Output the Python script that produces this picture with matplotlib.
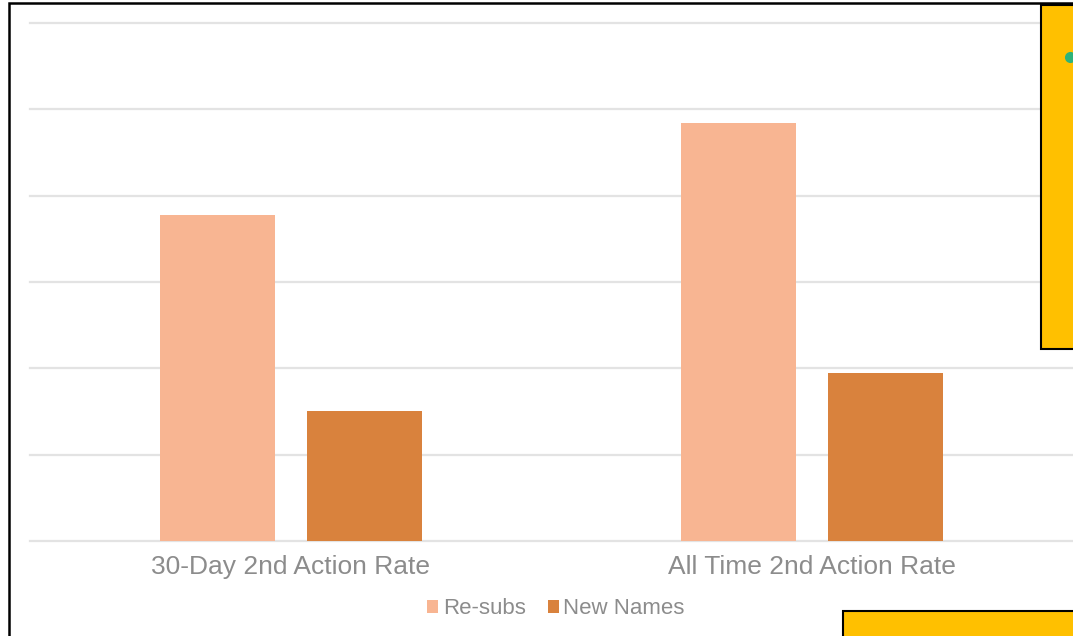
"""

Second action rate bars

"""

from matplotlib import pyplot as plt
from matplotlib.patches import Rectangle
from matplotlib.lines import Line2D
import numpy as np

categories = ["30-Day 2nd Action Rate", "All Time 2nd Action Rate"]
series = ["Re-subs", "New Names"]
resubs = [3.78, 4.84]
new_names = [1.51, 1.95]
grid_ticks = [0, 1, 2, 3, 4, 5, 6]

colors = ["#F8B592", "#D9823D"]
text_gray = "#8c8c8c"

plt.rcParams['font.family'] = ['Liberation Sans', 'DejaVu Sans']

W, H = 1073, 636
fig = plt.figure(figsize=(W / 100, H / 100), dpi=100)
ax = fig.add_axes([30 / W, (H - 541) / H, 1043 / W, (541 - 23) / H])

x = np.arange(len(categories))
w = 0.22
off = 0.141
b1 = ax.bar(x - off, resubs, w, color=colors[0], label=series[0], zorder=3)
b2 = ax.bar(x + off, new_names, w, color=colors[1], label=series[1], zorder=3)

ax.set_xlim(-0.5, 1.5)
ax.set_ylim(0, 6)
ax.set_yticks(grid_ticks)
ax.yaxis.grid(True, color="#e3e3e3", linewidth=1.6, zorder=0)
for gl in ax.get_ygridlines():
    gl.set_clip_on(False)
ax.tick_params(axis="y", length=0, labelleft=False)
ax.tick_params(axis="x", length=0, pad=10, labelsize=19, labelcolor=text_gray)
ax.set_xticks(x)
ax.set_xticklabels(categories)
for s in ax.spines.values():
    s.set_visible(False)

fig.legend(handles=[b1, b2], loc="center", bbox_to_anchor=(556 / W, 1 - 609 / H),
           ncol=2, frameon=False, fontsize=16, labelcolor=text_gray,
           handlelength=0.5, handleheight=0.5, handletextpad=0.2, columnspacing=1.0)

# frame and overlapping boxes from the slide
ft = fig.transFigure
fig.patches.append(Rectangle((9 / W, -0.1), 1.2, 1 - 3 / H + 0.1, transform=ft,
                             fill=False, edgecolor="black", linewidth=1.8))
fig.patches.append(Rectangle((1041 / W, 1 - 349 / H), 0.2, (349 - 5) / H, transform=ft,
                             facecolor="#FFC000", edgecolor="black", linewidth=1.5, zorder=5))
fig.add_artist(Line2D([1070 / W], [1 - 57 / H], transform=ft, marker="o", markersize=8,
                      markerfacecolor="#2DB37A", markeredgecolor="none", zorder=6))
fig.patches.append(Rectangle((843 / W, -0.1), 0.3, 0.1 + (H - 611) / H, transform=ft,
                             facecolor="#FFC000", edgecolor="black", linewidth=1.5, zorder=5))

fig.savefig("out.png", dpi=100)
